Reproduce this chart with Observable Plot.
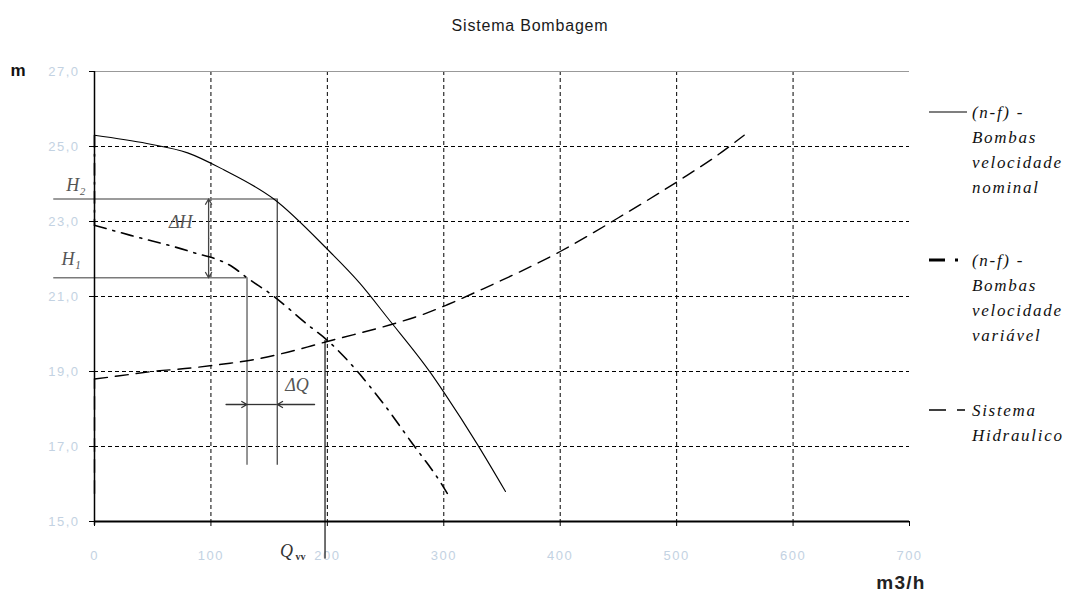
<!DOCTYPE html>
<html>
<head>
<meta charset="utf-8">
<script src="https://cdn.jsdelivr.net/npm/d3@7"></script>
<script src="https://cdn.jsdelivr.net/npm/@observablehq/plot@0.6"></script>
<style>
  html, body { margin: 0; padding: 0; background: #fff; }
  #wrap { position: relative; width: 1075px; height: 603px; overflow: hidden; font-family: "Liberation Sans", Arial, sans-serif; }
  #title { position: absolute; left: 0; width: 1060px; top: 17px; text-align: center; font-size: 16px; letter-spacing: 0.8px; color: #1a1a1a; }
  #chart { position: absolute; left: 0; top: 0; }
  #legend { position: absolute; left: 925px; top: 0; }
  .lg-text { font-family: "Liberation Serif", "DejaVu Serif", serif; font-style: italic; font-size: 17px; letter-spacing: 1.7px; color: #111; line-height: 25px; position: absolute; left: 47px; white-space: nowrap; }
</style>
</head>
<body>
<div id="wrap">
  <div id="chart"></div>
  <div id="title"></div>
  <div id="legend"></div>
</div>
<script>
// ---------- data ----------
const chartTitle = "Sistema Bombagem";
const yLabel = "m";
const xLabel = "m3/h";

const xTicks = [0, 100, 200, 300, 400, 500, 600, 700];
const yTicks = [15, 17, 19, 21, 23, 25, 27];
const xGrid = [100, 200, 300, 400, 500, 600];
const yGrid = [17, 19, 21, 23, 25];

// (n-f) - Bombas velocidade nominal
const nomQ = [0, 45, 80, 111, 154, 200, 228, 252, 289, 300, 329, 353];
const nomH = [25.3, 25.08, 24.83, 24.38, 23.6, 22.26, 21.35, 20.42, 18.95, 18.45, 17.05, 15.8];

// (n-f) - Bombas velocidade variável (starts with a vertical drop on the axis)
const varQ = [0, 0, 31, 82, 119, 131, 153, 183, 200, 248, 273, 296, 303];
const varH = [25.3, 22.9, 22.63, 22.2, 21.78, 21.5, 21.03, 20.25, 19.83, 18.15, 17.08, 16.1, 15.75];

// Sistema Hidraulico (starts with a vertical rise on the axis)
const sysQ = [0, 0, 20, 50, 85, 111, 134, 160, 186, 200, 260, 283, 303, 332, 400, 450, 509, 532, 558];
const sysH = [15.75, 18.8, 18.88, 19.0, 19.1, 19.2, 19.3, 19.47, 19.68, 19.8, 20.3, 20.53, 20.78, 21.18, 22.2, 23.1, 24.23, 24.7, 25.3];

const legendLabels = [
  ["(n-f) -", "Bombas", "velocidade", "nominal"],
  ["(n-f) -", "Bombas", "velocidade", "variável"],
  ["Sistema", "Hidraulico"]
];

// annotation values (H2/H1 operating points, Qvv)
const H2 = 23.6, H1 = 21.5;
const Q2 = 157, Q1 = 131, Qvv = 198;
const annLeft = -35, annBottom = 16.5, qvvBottom = 14.0, qvvTop = 19.83;
const dHx = 98, dQy = 18.12, dQleft = 113, dQright = 189;
const annLabels = [
  {x: -16, y: 23.96, t: "H₂"},
  {x: -20, y: 22.0, t: "H₁"},
  {x: 74, y: 22.97, t: "ΔH"},
  {x: 174, y: 18.63, t: "ΔQ"}
];
const qvvLabel = {x: 165, y: 14.2, t: "Q", sub: "vv"};

// ---------- build ----------
const toPts = (Q, H) => Q.map((q, i) => ({q, h: H[i]}));
const nom = toPts(nomQ, nomH);
const vvAll = toPts(varQ, varH);
const sysAll = toPts(sysQ, sysH);
// split the vertical on-axis part (linear) from the smooth curve
const vvStart = vvAll.slice(0, 2), vv = vvAll.slice(1);
const sysStart = sysAll.slice(0, 2), sys = sysAll.slice(1);

const fmtY = d => d.toFixed(1).replace(".", ",");
const tickCol = "#c3d2e2";
const annCol = "#7a7a7a";
const sysStyle = {x: "q", y: "h", stroke: "#000", strokeWidth: 1.4, strokeDasharray: "13,8"};
const vvStyle = {x: "q", y: "h", stroke: "#000", strokeWidth: 1.6, strokeDasharray: "12,7,2,7"};

const chart = Plot.plot({
  width: 1075,
  height: 603,
  marginLeft: 94,
  marginRight: 166,
  marginTop: 71,
  marginBottom: 82,
  x: {domain: [0, 700]},
  y: {domain: [15, 27]},
  style: {background: "transparent", fontFamily: "Liberation Sans, Arial, sans-serif", overflow: "visible"},
  marks: [
    Plot.gridX(xGrid, {stroke: "#000", strokeOpacity: 1, strokeDasharray: "4,3"}),
    Plot.gridY(yGrid, {stroke: "#000", strokeOpacity: 1, strokeDasharray: "4,3"}),
    Plot.ruleY([27], {stroke: "#999", strokeWidth: 1.2}),
    Plot.axisX(xTicks, {tickSize: 5, tickPadding: 24, stroke: "#000", fill: tickCol, fontSize: 13, tickFormat: d => String(d), label: null, className: "tklab"}),
    Plot.axisY(yTicks, {tickSize: 5, tickPadding: 10, stroke: "#000", fill: tickCol, fontSize: 13, tickFormat: fmtY, label: null, className: "tklab"}),
    // annotation guide lines (grey)
    Plot.ruleY([H2], {x1: annLeft, x2: Q2, stroke: annCol, strokeWidth: 1.6, clip: false}),
    Plot.ruleY([H1], {x1: annLeft, x2: Q1, stroke: annCol, strokeWidth: 1.6, clip: false}),
    Plot.ruleX([Q2], {y1: annBottom, y2: H2, stroke: "#555", strokeWidth: 1.4}),
    Plot.ruleX([Q1], {y1: annBottom, y2: H1, stroke: annCol, strokeWidth: 1.6}),
    Plot.ruleX([Qvv], {y1: qvvBottom, y2: qvvTop, stroke: "#333", strokeWidth: 1.4, clip: false}),
    // ΔH double arrow
    Plot.arrow([{}], {x1: dHx, x2: dHx, y1: (H1 + H2) / 2, y2: H2, stroke: "#444", strokeWidth: 1.3, headLength: 7, bend: false}),
    Plot.arrow([{}], {x1: dHx, x2: dHx, y1: (H1 + H2) / 2, y2: H1, stroke: "#444", strokeWidth: 1.3, headLength: 7, bend: false}),
    // ΔQ arrows
    Plot.ruleY([dQy], {x1: Q1, x2: Q2, stroke: "#333", strokeWidth: 1.3}),
    Plot.arrow([{}], {x1: dQleft, x2: Q1, y1: dQy, y2: dQy, stroke: "#333", strokeWidth: 1.3, headLength: 7}),
    Plot.arrow([{}], {x1: dQright, x2: Q2, y1: dQy, y2: dQy, stroke: "#333", strokeWidth: 1.3, headLength: 7}),
    // curves
    Plot.line(sysStart, sysStyle),
    Plot.line(sys, {...sysStyle, curve: "monotone-x"}),
    Plot.line(vvStart, vvStyle),
    Plot.line(vv, {...vvStyle, curve: "monotone-x"}),
    Plot.line(nom, {x: "q", y: "h", stroke: "#000", strokeWidth: 1.1, curve: "monotone-x"}),
    // axes lines
    Plot.ruleX([0], {y1: 14.9, y2: 27, stroke: "#000", strokeWidth: 1.5, clip: false}),
    Plot.ruleY([15], {stroke: "#000", strokeWidth: 2}),
    // annotation labels
    Plot.text(annLabels, {x: "x", y: "y", text: "t", fontFamily: "Liberation Serif, serif", fontStyle: "italic", fontSize: 18, fill: "#555", clip: false}),
    Plot.text([qvvLabel], {x: "x", y: "y", text: "t", fontFamily: "Liberation Serif, serif", fontStyle: "italic", fontSize: 18, fill: "#333"}),
    Plot.text([qvvLabel], {x: "x", y: "y", text: "sub", dx: 14, dy: 5, fontFamily: "Liberation Serif, serif", fontWeight: "bold", fontSize: 10, fill: "#333"}),
    // axis titles
    Plot.text([yLabel], {frameAnchor: "top-left", dx: -84, dy: -8, fontSize: 17, fontWeight: "bold", fill: "#111"}),
    Plot.text([xLabel], {frameAnchor: "bottom-right", dx: 16, dy: 67, fontSize: 19, fontWeight: "bold", fill: "#222", className: "xlab"})
  ]
});
document.getElementById("chart").appendChild(chart);
d3.select(chart).selectAll(".tklab text").style("letter-spacing", "1.5px");
d3.select(chart).selectAll(".xlab text").style("letter-spacing", "1.2px");
document.getElementById("title").textContent = chartTitle;

// legend
const legend = document.getElementById("legend");
const entryTops = [102, 250, 400];
const styles = [
  {dash: null, w: 1.1},
  {dash: "16,10,3,30", w: 3},
  {dash: "17,11,8,30", w: 1.4}
];
legendLabels.forEach((lines, i) => {
  const top = entryTops[i];
  const svg = d3.select(legend).append("svg")
    .attr("width", 46).attr("height", 10)
    .style("position", "absolute").style("left", "0px").style("top", (top + 5) + "px");
  svg.append("line").attr("x1", 4).attr("x2", 42).attr("y1", 5).attr("y2", 5)
    .attr("stroke", "#000").attr("stroke-width", styles[i].w)
    .attr("stroke-dasharray", styles[i].dash);
  const div = document.createElement("div");
  div.className = "lg-text";
  div.style.top = (top - 2) + "px";
  div.innerHTML = lines.join("<br>");
  legend.appendChild(div);
});
</script>
</body>
</html>
